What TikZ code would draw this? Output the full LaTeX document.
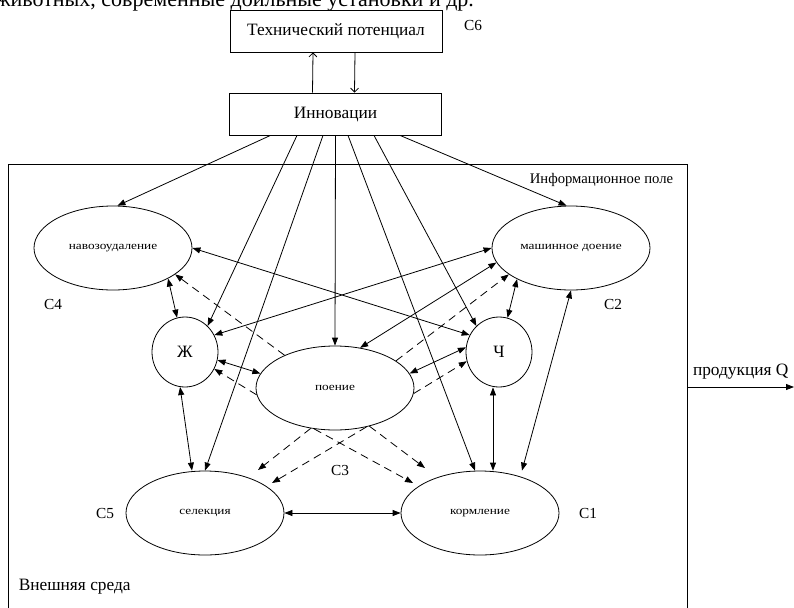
\documentclass[tikz,border=0pt]{standalone}
\usepackage{fontspec}
\setmainfont{Liberation Serif}
\newfontfamily\stagefont[FakeStretch=1.2]{Liberation Serif}
\usetikzlibrary{arrows.meta, shapes.geometric}

\tikzset{
  block/.style={draw, minimum width=159pt, minimum height=31.5pt, inner sep=0pt,
    font=\fontsize{13}{15}\selectfont},
  stage/.style={draw, ellipse, minimum width=118.5pt, minimum height=63pt, inner sep=0pt,
    font=\stagefont\fontsize{8.3}{9}\selectfont},
  herd/.style={draw, ellipse, minimum width=49.5pt, minimum height=52.5pt, inner sep=0pt,
    font=\fontsize{13}{15}\selectfont},
  tag/.style={font=\fontsize{11.5}{13}\selectfont},
  bigtag/.style={font=\fontsize{13}{15}\selectfont},
  flow/.style={->},
  link/.style={<->},
  hint/.style={->, dash pattern=on 6pt off 4pt}
}

\begin{document}
\begin{tikzpicture}[x=0.75pt, y=-0.75pt, line width=0.6pt,
    >={Triangle[length=6pt,width=4.5pt]}]
  \useasboundingbox (0,0) rectangle (794,608);
  \clip (0,0) rectangle (794,608);

  % text of the page above the figure, cut off
  \node[anchor=base west, inner sep=0pt, font=\fontsize{16.5}{18}\selectfont] (pretext)
    at (-5,6) {животных, современные доильные установки и др.};

  % top blocks
  \node[block] (tech) at (336,31) {Технический потенциал};
  \node[block] (innov) at (335.5,114) {Инновации};
  \node[tag] (c6) at (473,25) {C6};

  \draw[->, >={Straight Barb[length=3pt]}] ([shift={(-23,0)}]innov.north) -- ([shift={(-23,0)}]tech.south);
  \draw[->, >={Straight Barb[length=3pt]}] ([shift={(19,0)}]tech.south) -- ([shift={(19,0)}]innov.north);

  % information field
  \node[draw, minimum width=509.25pt, minimum height=334.5pt, inner sep=0pt] (field) at (347.5,387) {};
  \node[tag, anchor=east, font=\fontsize{11}{13}\selectfont] (infolbl) at (678,180) {Информационное поле};
  \node[bigtag, anchor=west] (envlbl) at (14,587) {Внешняя среда};

  % processes
  \node[stage] (nav) at (113,248) {навозоудаление};
  \node[stage] (mach) at (571,248) {машинное доение};
  \node[stage] (poe) at (335,388) {поение};
  \node[stage] (sel) at (205,513) {селекция};
  \node[stage] (korm) at (480,513) {кормление};
  \node[herd] (zh) at (185,352) {Ж};
  \node[herd] (ch) at (499,352) {Ч};

  \node[tag] (c4) at (53,304) {C4};
  \node[tag] (c2) at (613,304) {C2};
  \node[tag] (c3) at (340,470) {C3};
  \node[tag] (c5) at (105,513) {C5};
  \node[tag] (c1) at (588,513) {C1};

  % innovations into the field
  \draw[flow] ([shift={(-65,0)}]innov.south) -- (nav.84);
  \draw[flow] ([shift={(-38.5,0)}]innov.south) -- (zh.49);
  \draw[flow] ([shift={(-12.5,0)}]innov.south) -- (sel.north);
  \draw[flow] (innov.south) -- (poe.north);
  \draw[flow] ([shift={(12.5,0)}]innov.south) -- ([shift={(-5,0)}]korm.north);
  \draw[flow] ([shift={(38.5,0)}]innov.south) -- (ch.131);
  \draw[flow] ([shift={(64.5,0)}]innov.south) -- (mach.96);

  % two-way links
  \draw[link] (nav.-29) -- (zh.103);
  \draw[link] (mach.210) -- (ch.76);
  \draw[link] (zh.262) -- ([shift={(-13,0)}]sel.north);
  \draw[link] ([shift={(-6,0)}]ch.south) -- ([shift={(13,0)}]korm.north);
  \draw[link] (sel.east) -- (korm.west);
  \draw[link] (mach.south) -- ([shift={(42,0)}]korm.north);
  \draw[link] (zh.-14) -- (poe.169);
  \draw[link] (poe.11) -- (ch.172);
  \draw[link] (nav.east) -- (ch.150);
  \draw[link] (mach.west) -- (zh.30);
  \draw[link] (poe.58) -- (mach.191);

  % watering effects
  \draw[hint] (poe.185) -- (zh.-30);
  \draw[hint] (poe.-4) -- (ch.196);
  \draw[hint] (poe.24) -- (mach.203);
  \draw[hint] (poe.147) -- (nav.-23);
  \draw[hint] (poe.239) -- ([shift={(53,-43)}]sel.center);
  \draw[hint] (poe.-51) -- ([shift={(67,-30)}]sel.center);
  \draw[hint] (poe.243) -- ([shift={(-67,-30)}]korm.center);
  \draw[hint] (poe.-48) -- ([shift={(-55,-45)}]korm.center);

  % output
  \coordinate (qend) at (794,387);
  \draw[flow] (field.east) -- (qend) node[bigtag, midway, above=2pt] (qlbl) {продукция Q};
\end{tikzpicture}
\end{document}
